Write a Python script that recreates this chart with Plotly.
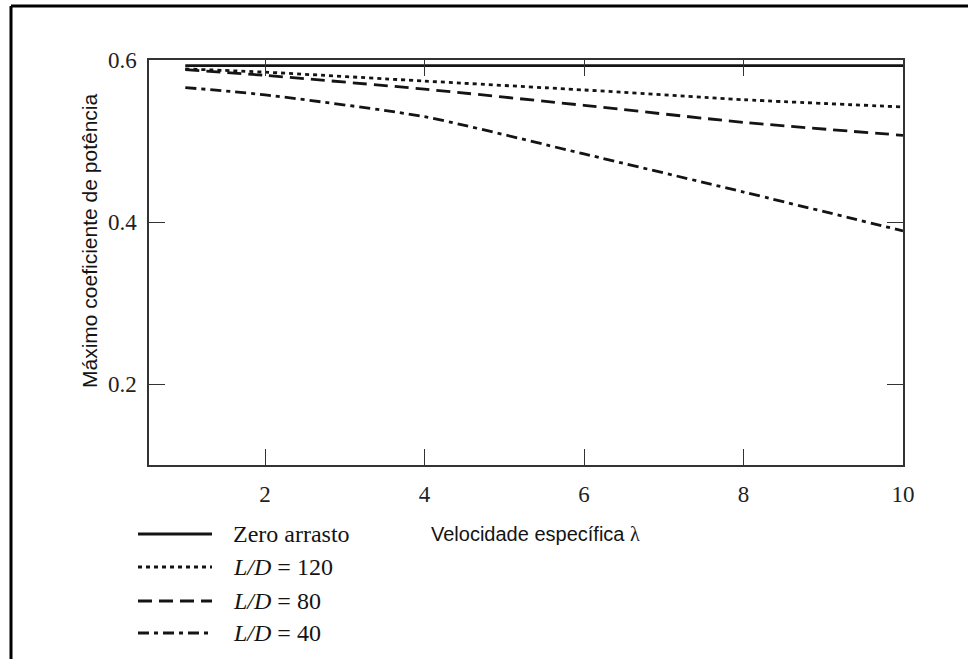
import plotly.graph_objects as go

# Data
lam = [1, 2, 4, 6, 8, 10]
cp_zero = [0.593, 0.593, 0.593, 0.593, 0.593, 0.593]
cp_ld120 = [0.589, 0.585, 0.574, 0.563, 0.551, 0.542]
cp_ld80 = [0.588, 0.581, 0.564, 0.544, 0.523, 0.507]
cp_ld40 = [0.566, 0.557, 0.530, 0.484, 0.437, 0.389]

x_ticks = [2, 4, 6, 8, 10]
y_ticks = [0.2, 0.4, 0.6]

series = [
    ("Zero arrasto", cp_zero, "solid"),
    ("<i>L/D</i> = 120", cp_ld120, "4px,4px"),
    ("<i>L/D</i> = 80", cp_ld80, "14px,7px"),
    ("<i>L/D</i> = 40", cp_ld40, "11px,5px,4px,5px"),
]

INK = "#141414"
W, H = 968, 659
L, R, T, B = 149, 65, 60, 194
pw, ph = W - L - R, H - T - B


def px_x(px):
    return (px - L) / pw


def px_y(py):
    return (H - B - py) / ph


fig = go.Figure()
for name, ys, dash in series:
    fig.add_trace(go.Scatter(x=lam, y=ys, mode="lines", name=name,
                             line=dict(color=INK, width=2.8, dash=dash,
                                       shape="spline", smoothing=0.6),
                             showlegend=False))

shapes = []
annotations = []
leg_y = [534, 567, 601, 633]
for (name, ys, dash), py in zip(series, leg_y):
    shapes.append(dict(type="line", xref="paper", yref="paper",
                       x0=px_x(138), x1=px_x(212), y0=px_y(py), y1=px_y(py),
                       line=dict(color=INK, width=2.8, dash=dash)))
    annotations.append(dict(text=name, xref="paper", yref="paper",
                            x=px_x(231), y=px_y(py), xanchor="left", yanchor="middle",
                            showarrow=False,
                            font=dict(family="Liberation Serif", size=24, color=INK)))

# page frame (top and left edges)
shapes.append(dict(type="line", xref="paper", yref="paper",
                   x0=px_x(11), x1=px_x(968), y0=px_y(6), y1=px_y(6),
                   line=dict(color="black", width=3)))
shapes.append(dict(type="line", xref="paper", yref="paper",
                   x0=px_x(11), x1=px_x(11), y0=px_y(6), y1=px_y(659),
                   line=dict(color="black", width=3)))

annotations.append(dict(text="Máximo coeficiente de potência", xref="paper", yref="paper",
                        x=px_x(89), y=px_y(241), xanchor="center", yanchor="middle",
                        textangle=-90, showarrow=False,
                        font=dict(family="Liberation Sans", size=21, color=INK)))
annotations.append(dict(text="Velocidade específica <span style='font-family:Liberation Serif'>λ</span>",
                        xref="paper", yref="paper",
                        x=px_x(535), y=px_y(534), xanchor="center", yanchor="middle",
                        showarrow=False,
                        font=dict(family="Liberation Sans", size=20, color=INK)))

axis_common = dict(showline=True, linecolor="#333333", linewidth=1.5, mirror="ticks",
                   ticks="inside", ticklen=16, tickwidth=1.3, tickcolor="#333333",
                   showgrid=False, zeroline=False,
                   tickfont=dict(family="Liberation Serif", size=23, color="#222222"))

fig.update_layout(
    width=W, height=H,
    margin=dict(l=L, r=R, t=T, b=B),
    paper_bgcolor="white", plot_bgcolor="white",
    xaxis=dict(range=[0.545, 10], tickvals=x_ticks, ticktext=[str(v) for v in x_ticks],
               ticklabelstandoff=8, **axis_common),
    yaxis=dict(range=[0.1, 0.6], tickvals=y_ticks, ticktext=["0.2", "0.4", "0.6"],
               ticklabelstandoff=6, **axis_common),
    shapes=shapes,
    annotations=annotations,
    showlegend=False,
)

fig.write_html("out.html")
